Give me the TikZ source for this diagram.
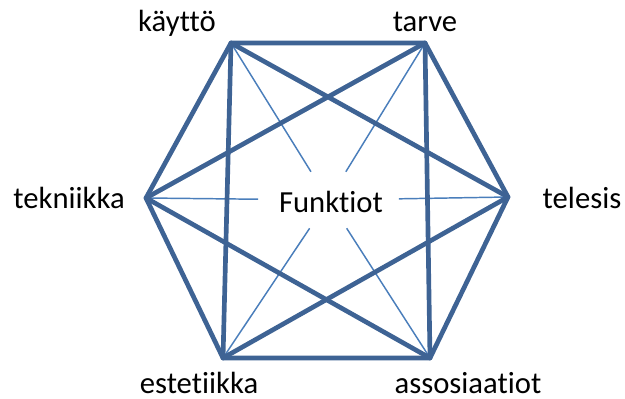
\documentclass[tikz,border=0pt]{standalone}
\usepackage{fontspec}
\setmainfont{Carlito}[RawFeature={-liga;-clig;-dlig}]
\definecolor{thickblue}{HTML}{3E6394}
\definecolor{thinblue}{HTML}{4A7EBB}
\begin{document}
\begin{tikzpicture}[x=0.75pt,y=-0.75pt,
  thickline/.style={draw=thickblue,line width=3.5pt,line cap=round,line join=round},
  thinline/.style={draw=thinblue,line width=1.1pt},
  lbl/.style={font=\fontsize{23}{26}\selectfont,inner sep=0pt,anchor=base}]
\useasboundingbox (0,0) rectangle (625,399);
\coordinate (k) at (231,43);
\coordinate (t) at (425,43);
\coordinate (te) at (508,197);
\coordinate (a) at (430,358);
\coordinate (e) at (223,358);
\coordinate (tk) at (146,198);
\node[draw=none,minimum width=105pt,minimum height=42pt,inner sep=0pt] (f) at (328.5,200) {};
\node[lbl] (flbl) at (331,213) {Funktiot};
% thin lines to centre
\foreach \v in {k,t,te,a,e,tk} \draw[thinline] (\v) -- (f);
% hexagon
\draw[thickline] (k) -- (t) -- (te) -- (a) -- (e) -- (tk) -- cycle;
% diagonals
\draw[thickline] (k) -- (te);
\draw[thickline] (k) -- (e);
\draw[thickline] (t) -- (tk);
\draw[thickline] (t) -- (a);
\draw[thickline] (tk) -- (a);
\draw[thickline] (te) -- (e);
% labels
\node[lbl] (lk) at (177,32) {käyttö};
\node[lbl] (lt) at (425,32) {tarve};
\node[lbl] (ltk) at (69,209) {tekniikka};
\node[lbl] (lte) at (582,209) {telesis};
\node[lbl] (le) at (199,393) {estetiikka};
\node[lbl] (la) at (468,393) {assosiaatiot};
\end{tikzpicture}
\end{document}
